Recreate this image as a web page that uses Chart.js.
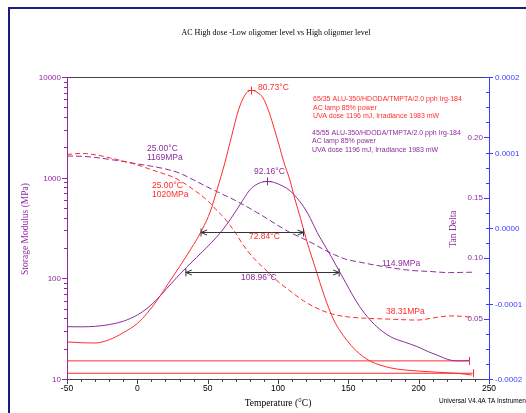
<!DOCTYPE html>
<html>
<head>
<meta charset="utf-8">
<script src="https://cdn.jsdelivr.net/npm/chart.js@4.4.0/dist/chart.umd.min.js"></script>
<style>
body { margin: 0; background: #fff; }
canvas { display: block; }
</style>
</head>
<body>
<canvas id="dmaChart" width="526" height="413"></canvas>
<script>
// tick values
var xTicks = [-50, 0, 50, 100, 150, 200, 250];
var modTicks = [10, 100, 1000, 10000];
var tanTicks = [0.05, 0.10, 0.15, 0.20];
var derivTicks = [-0.0002, -0.0001, 0, 0.0001, 0.0002];

// 65/35 sample (red) - tan delta
var tanTempA = [-50, -40, -30, -20, -10, 0, 7, 14, 22, 30, 38, 46, 52, 57, 62, 67, 72, 76.5, 80.7, 85, 89.4, 93, 96.5, 101.3, 104, 108.4, 112, 116, 120, 124, 128, 132, 136, 140, 144, 149, 155, 160.6, 166, 172.5, 180, 189, 200, 208, 218, 227, 233, 237.7];
var tanA = [0.0307, 0.0300, 0.0298, 0.0325, 0.0383, 0.0460, 0.0545, 0.0650, 0.0790, 0.0930, 0.1075, 0.1235, 0.1390, 0.1580, 0.1780, 0.2010, 0.2230, 0.2350, 0.2389, 0.2375, 0.2326, 0.2230, 0.2105, 0.1914, 0.1800, 0.1649, 0.1490, 0.1330, 0.1160, 0.1010, 0.0865, 0.0720, 0.0590, 0.0480, 0.0400, 0.0320, 0.0240, 0.0185, 0.0145, 0.0116, 0.0092, 0.0076, 0.0066, 0.0060, 0.0053, 0.0047, 0.0040, 0.0033];

// 45/55 sample (purple) - tan delta
var tanTempB = [-50, -40, -30, -20, -10, 0, 7, 14, 21, 28, 35, 42, 49, 56, 63, 70, 75, 80, 85, 91.9, 97, 103.7, 108.4, 113, 118, 123, 128, 133, 138, 143, 148, 153, 158, 165, 172, 180, 190, 198.6, 206, 212.8, 222.3, 230, 236.5];
var tanB = [0.0433, 0.0432, 0.0436, 0.0450, 0.0478, 0.0530, 0.0585, 0.0660, 0.0750, 0.0840, 0.0925, 0.1005, 0.1085, 0.1170, 0.1270, 0.1390, 0.1480, 0.1565, 0.1612, 0.1635, 0.1628, 0.1595, 0.1560, 0.1505, 0.1430, 0.1330, 0.1210, 0.1110, 0.1010, 0.0905, 0.0800, 0.0695, 0.0600, 0.0495, 0.0415, 0.0350, 0.0305, 0.0270, 0.0230, 0.0199, 0.0157, 0.0150, 0.0152];

// storage modulus (MPa)
var modTempA = [-50, -40, -30, -20, -10, 0, 10, 20, 25, 30, 40, 50, 56, 61, 66, 70, 74, 78, 82, 86, 90, 95, 100, 108, 118, 127, 139, 151, 165, 180, 199, 213, 222, 230, 238];
var modA = [1700, 1740, 1690, 1580, 1460, 1340, 1200, 1080, 1020, 940, 760, 590, 480, 410, 335, 280, 228, 190, 163, 142, 126, 108, 93, 76, 60, 51, 44, 41.2, 40, 39.3, 38.5, 41, 42.3, 42, 41];
var modTempB = [-50, -40, -30, -20, -10, 0, 10, 20, 25, 30, 40, 50, 60, 70, 80, 90, 100, 108, 116, 124, 132, 140, 148, 158, 168, 178, 194, 208, 222, 230, 238];
var modB = [1640, 1630, 1590, 1520, 1450, 1370, 1300, 1220, 1169, 1110, 950, 805, 690, 590, 495, 410, 335, 288, 255, 225, 195, 172, 155, 145, 136, 129, 120, 117, 114, 114.5, 115];

// peaks [temp, tan delta], half width [from, to, level]
var peakA = [80.73, 0.2389];
var peakB = [92.16, 0.1635];
var halfA = [45.3, 118.14, 0.122];
var halfB = [34.5, 143.46, 0.0889];

// flat derivative traces at the bottom [level, end temp]
var baseA = [-0.0001924, 238.4];
var baseB = [-0.000176, 236.1];

var RED = '#ff2b2b';
var PURPLE = '#8e2c9e';
var BLUE = '#3c3cff';
var SANS = '"Liberation Sans", Arial, sans-serif';
var SERIF = '"Liberation Serif", "Times New Roman", serif';

function pts(xs, ys) {
    var out = [];
    for (var i = 0; i < xs.length; i++) out.push({ x: xs[i], y: ys[i] });
    return out;
}

function line(data, color, axis, dash) {
    return {
        data: data,
        yAxisID: axis,
        borderColor: color,
        borderWidth: 1,
        borderDash: dash || [],
        pointRadius: 0,
        fill: false,
        cubicInterpolationMode: 'monotone'
    };
}

function text(ctx, s, x, y, color, font, align) {
    ctx.fillStyle = color;
    ctx.font = font;
    ctx.textAlign = align || 'left';
    ctx.textBaseline = 'middle';
    ctx.fillText(s, x, y);
}

function seg(ctx, x1, y1, x2, y2) {
    ctx.beginPath();
    ctx.moveTo(x1, y1);
    ctx.lineTo(x2, y2);
    ctx.stroke();
}

var notes = [
    ['80.73°C', 258, 88, RED],
    ['92.16°C', 254, 172, PURPLE],
    ['25.00°C', 147, 148.5, PURPLE],
    ['1169MPa', 147, 157.5, PURPLE],
    ['25.00°C', 152, 186, RED],
    ['1020MPa', 152, 194.5, RED],
    ['72.84°C', 249, 237, RED],
    ['108.96°C', 241, 277.5, PURPLE],
    ['114.9MPa', 382, 264, PURPLE],
    ['38.31MPa', 386, 312, RED]
];

var legendLines = [
    ['65/35 ALU-350/HDODA/TMPTA/2.0 pph Irg-184', 313, 99.5, RED],
    ['AC lamp 85% power', 313, 108, RED],
    ['UVA dose 1196 mJ, Irradiance 1983 mW', 313, 116.5, RED],
    ['45/55 ALU-350/HDODA/TMPTA/2.0 pph Irg-184', 312, 133.5, PURPLE],
    ['AC lamp 85% power', 312, 141.5, PURPLE],
    ['UVA dose 1196 mJ, Irradiance 1983 mW', 312, 150, PURPLE]
];

var dmaPlugin = {
    id: 'dmaAxes',
    beforeDatasetsDraw: function(chart) {
        var ctx = chart.ctx;
        var a = chart.chartArea;
        var sx = chart.scales.x, sy = chart.scales.y, st = chart.scales.yTan, sd = chart.scales.yD;
        var i, v, px, py;

        ctx.save();
        // outer frame
        ctx.fillStyle = '#1c1c80';
        ctx.fillRect(8, 7, 2, 406);
        ctx.fillRect(8, 7, 518, 2);

        ctx.lineWidth = 1;
        // top border and x axis
        ctx.strokeStyle = '#444';
        seg(ctx, a.left, a.top + 0.5, a.right, a.top + 0.5);
        seg(ctx, a.left, a.bottom + 0.5, a.right, a.bottom + 0.5);
        for (v = -50; v <= 250; v += 10) {
            px = Math.round(sx.getPixelForValue(v)) + 0.5;
            seg(ctx, px, a.bottom, px, a.bottom + (v % 50 === 0 ? 5 : 3));
        }
        for (i = 0; i < xTicks.length; i++) {
            text(ctx, String(xTicks[i]), sx.getPixelForValue(xTicks[i]), a.bottom + 10, '#000', '8.5px ' + SANS, 'center');
        }

        // left storage modulus axis
        ctx.strokeStyle = PURPLE;
        seg(ctx, a.left + 0.5, a.top, a.left + 0.5, a.bottom);
        for (i = 0; i < modTicks.length; i++) {
            py = Math.round(sy.getPixelForValue(modTicks[i])) + 0.5;
            seg(ctx, a.left - 5, py, a.left, py);
            text(ctx, String(modTicks[i]), a.left - 6, py, PURPLE, '8px ' + SANS, 'right');
            if (modTicks[i] < 10000) {
                for (var m = 2; m <= 9; m++) {
                    py = Math.round(sy.getPixelForValue(modTicks[i] * m)) + 0.5;
                    seg(ctx, a.left - 3, py, a.left, py);
                }
            }
        }

        // right axis: tan delta ticks inside, derivative labels outside
        ctx.strokeStyle = BLUE;
        seg(ctx, a.right + 0.5, a.top, a.right + 0.5, a.bottom);
        for (i = 0; i <= 20; i++) {
            v = i * 0.0125;
            py = Math.round(st.getPixelForValue(v)) + 0.5;
            ctx.strokeStyle = BLUE;
            seg(ctx, a.right - (i % 4 === 0 ? 5 : 3), py, a.right, py);
        }
        for (i = 0; i < tanTicks.length; i++) {
            py = st.getPixelForValue(tanTicks[i]);
            text(ctx, tanTicks[i].toFixed(2), a.right - 6, py, PURPLE, '8px ' + SANS, 'right');
        }
        for (i = 0; i < derivTicks.length; i++) {
            py = Math.round(sd.getPixelForValue(derivTicks[i])) + 0.5;
            ctx.strokeStyle = BLUE;
            seg(ctx, a.right, py, a.right + 4, py);
            text(ctx, derivTicks[i].toFixed(4), a.right + 6, py, BLUE, '8px ' + SANS, 'left');
        }

        // titles
        text(ctx, 'AC High dose -Low oligomer level vs High oligomer level', 276, 33, '#000', '8px ' + SERIF, 'center');
        text(ctx, 'Temperature (°C)', 278, 403, '#000', '9.5px ' + SERIF, 'center');
        text(ctx, 'Universal V4.4A TA Instruments', 439, 401, '#000', '6.5px ' + SANS, 'left');

        ctx.save();
        ctx.translate(25, 229);
        ctx.rotate(-Math.PI / 2);
        text(ctx, 'Storage Modulus (MPa)', 0, 0, PURPLE, '9.5px ' + SERIF, 'center');
        ctx.restore();

        ctx.save();
        ctx.translate(453, 229);
        ctx.rotate(-Math.PI / 2);
        text(ctx, 'Tan Delta', 0, 0, PURPLE, '9.5px ' + SERIF, 'center');
        ctx.restore();

        ctx.restore();
    },
    afterDatasetsDraw: function(chart) {
        var ctx = chart.ctx;
        var sx = chart.scales.x, st = chart.scales.yTan, sd = chart.scales.yD;
        var i, px, py;

        ctx.save();
        ctx.lineWidth = 1;

        // peak markers
        var peaks = [[peakA, RED], [peakB, PURPLE]];
        for (i = 0; i < peaks.length; i++) {
            px = Math.round(sx.getPixelForValue(peaks[i][0][0])) + 0.5;
            py = Math.round(st.getPixelForValue(peaks[i][0][1])) + 0.5;
            ctx.strokeStyle = peaks[i][1];
            seg(ctx, px - 4, py, px + 4, py);
            seg(ctx, px, py - 4, px, py + 4);
        }

        // half width arrows
        var halves = [halfA, halfB];
        ctx.strokeStyle = '#333';
        for (i = 0; i < halves.length; i++) {
            var x1 = sx.getPixelForValue(halves[i][0]);
            var x2 = sx.getPixelForValue(halves[i][1]);
            py = Math.round(st.getPixelForValue(halves[i][2])) + 0.5;
            seg(ctx, x1, py, x2, py);
            seg(ctx, x1, py - 4, x1, py + 4);
            seg(ctx, x2, py - 4, x2, py + 4);
            seg(ctx, x1, py, x1 + 6, py - 2.5);
            seg(ctx, x1, py, x1 + 6, py + 2.5);
            seg(ctx, x2, py, x2 - 6, py - 2.5);
            seg(ctx, x2, py, x2 - 6, py + 2.5);
        }

        // end bars on the flat traces
        var bases = [baseA, baseB];
        ctx.strokeStyle = RED;
        for (i = 0; i < bases.length; i++) {
            px = Math.round(sx.getPixelForValue(bases[i][1])) + 0.5;
            py = sd.getPixelForValue(bases[i][0]);
            seg(ctx, px, py - 4, px, py + 4);
        }

        for (i = 0; i < notes.length; i++) {
            text(ctx, notes[i][0], notes[i][1], notes[i][2], notes[i][3], '8.5px ' + SANS, 'left');
        }
        for (i = 0; i < legendLines.length; i++) {
            text(ctx, legendLines[i][0], legendLines[i][1], legendLines[i][2], legendLines[i][3], '7px ' + SANS, 'left');
        }
        ctx.restore();
    }
};

var ctx = document.getElementById('dmaChart').getContext('2d');
var chart = new Chart(ctx, {
    type: 'line',
    data: {
        datasets: [
            line(pts(tanTempA, tanA), RED, 'yTan'),
            line(pts(tanTempB, tanB), PURPLE, 'yTan'),
            line(pts(modTempA, modA), RED, 'y', [5, 3]),
            line(pts(modTempB, modB), PURPLE, 'y', [6, 3]),
            line(pts([-50, baseA[1]], [baseA[0], baseA[0]]), RED, 'yD'),
            line(pts([-50, baseB[1]], [baseB[0], baseB[0]]), RED, 'yD')
        ]
    },
    options: {
        responsive: false,
        animation: false,
        devicePixelRatio: 1,
        layout: { padding: { left: 67, top: 77, right: 37, bottom: 34 } },
        plugins: { legend: { display: false }, tooltip: { enabled: false } },
        scales: {
            x: { type: 'linear', min: -50, max: 250, display: false },
            y: { type: 'logarithmic', min: 10, max: 10000, display: false },
            yTan: { type: 'linear', min: 0, max: 0.25, display: false },
            yD: { type: 'linear', min: -0.0002, max: 0.0002, display: false }
        }
    },
    plugins: [dmaPlugin]
});
</script>
</body>
</html>
